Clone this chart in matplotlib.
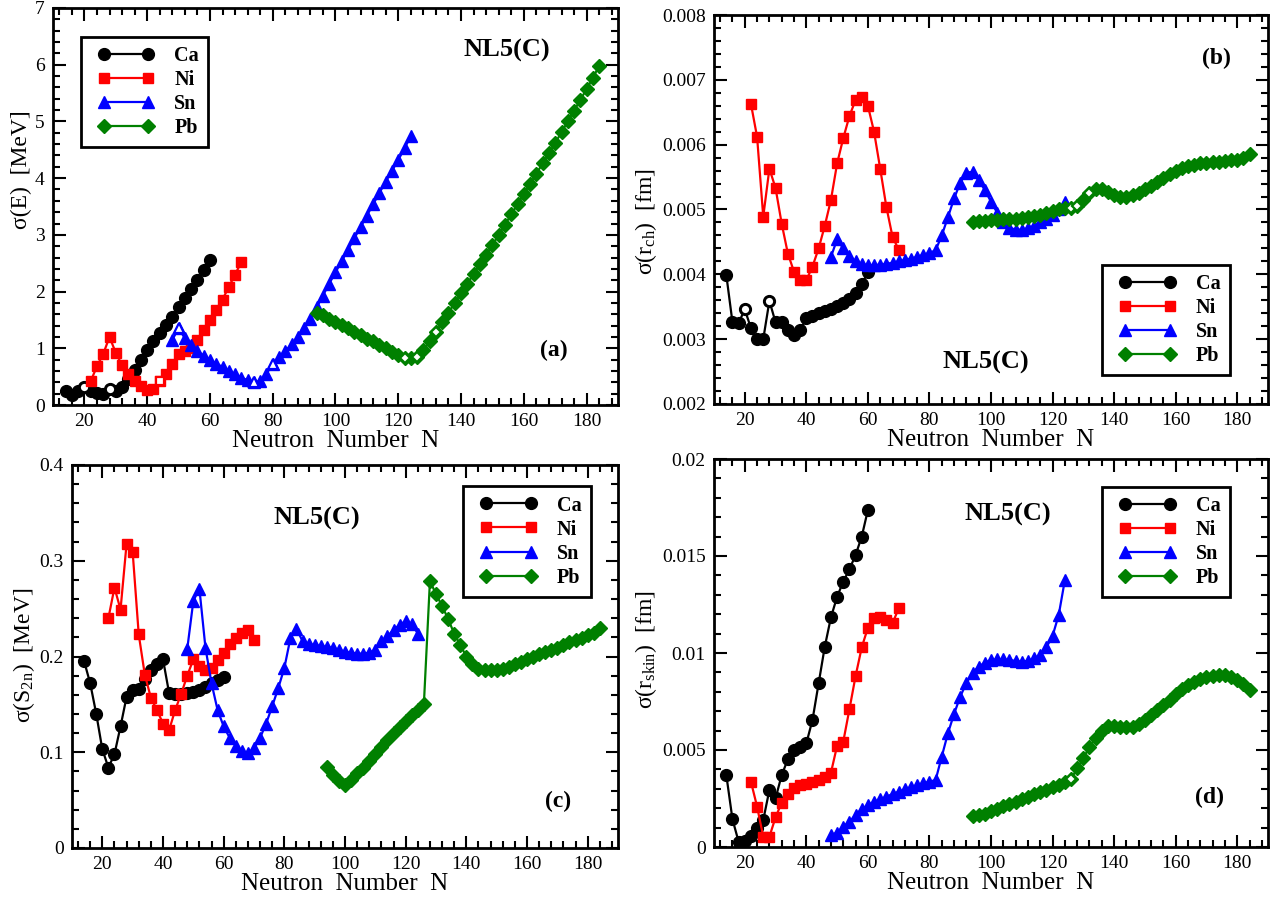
import matplotlib
matplotlib.use("Agg")
import matplotlib.pyplot as plt
import numpy as np
from matplotlib.ticker import MultipleLocator, FuncFormatter
from matplotlib.legend_handler import HandlerLine2D

plt.rcParams['font.family'] = ['Liberation Serif', 'DejaVu Serif']
plt.rcParams['mathtext.fontset'] = 'custom'
plt.rcParams['mathtext.rm'] = 'Liberation Serif'
plt.rcParams['mathtext.it'] = 'Liberation Serif:italic'
plt.rcParams['mathtext.bf'] = 'Liberation Serif:bold'

# ---------------- data ----------------
N_ca = list(range(14, 61, 2))
N_ni = list(range(22, 71, 2))
N_sn = list(range(48, 125, 2))
N_pb = list(range(94, 185, 2))

# (a) sigma(E) [MeV]
E_ca = [0.24, 0.18, 0.24, 0.31, 0.24, 0.21, 0.20, 0.28, 0.24, 0.32, 0.45, 0.62,
        0.80, 0.97, 1.13, 1.27, 1.41, 1.56, 1.72, 1.88, 2.04, 2.20, 2.38, 2.56]
E_ni = [0.42, 0.68, 0.90, 1.20, 0.92, 0.70, 0.55, 0.43, 0.33, 0.27, 0.28, 0.42,
        0.55, 0.72, 0.90, 0.95, 1.00, 1.15, 1.32, 1.50, 1.68, 1.86, 2.08, 2.30, 2.52]
E_sn = [1.15, 1.35, 1.18, 1.05, 0.95, 0.87, 0.80, 0.73, 0.67, 0.60, 0.54, 0.48,
        0.44, 0.41, 0.42, 0.55, 0.72, 0.85, 0.95, 1.07, 1.20, 1.35, 1.52, 1.72,
        1.93, 2.14, 2.34, 2.54, 2.74, 2.94, 3.14, 3.34, 3.54, 3.74, 3.94, 4.13,
        4.32, 4.53, 4.74]
E_pb = [1.63, 1.58, 1.52, 1.46, 1.41, 1.35, 1.29, 1.23, 1.17, 1.12, 1.06, 1.00,
        0.94, 0.89, 0.83, 0.82, 0.85, 0.97, 1.12, 1.29, 1.46, 1.63, 1.80, 1.97,
        2.14, 2.31, 2.48, 2.65, 2.82, 3.00, 3.18, 3.36, 3.54, 3.72, 3.90, 4.08,
        4.26, 4.44, 4.62, 4.81, 5.00, 5.19, 5.38, 5.57, 5.77, 5.98]

# (b) sigma(r_ch) [fm]
R_ca = [0.00399, 0.00326, 0.00325, 0.00346, 0.00317, 0.00300, 0.00300, 0.00359,
        0.00326, 0.00327, 0.00314, 0.00306, 0.00314, 0.00332, 0.00336, 0.00340,
        0.00343, 0.00347, 0.00351, 0.00356, 0.00362, 0.00371, 0.00385, 0.00403]
R_ni = [0.00663, 0.00612, 0.00489, 0.00563, 0.00533, 0.00478, 0.00432, 0.00404,
        0.00391, 0.00391, 0.00412, 0.00440, 0.00475, 0.00515, 0.00571, 0.00610,
        0.00644, 0.00669, 0.00674, 0.00660, 0.00620, 0.00563, 0.00504, 0.00458,
        0.00438]
R_sn = [0.00427, 0.00454, 0.00440, 0.00428, 0.00420, 0.00416, 0.00414, 0.00414,
        0.00415, 0.00416, 0.00418, 0.00420, 0.00422, 0.00424, 0.00427, 0.00430,
        0.00433, 0.00437, 0.00460, 0.00488, 0.00517, 0.00541, 0.00557, 0.00558,
        0.00545, 0.00530, 0.00512, 0.00495, 0.00480, 0.00472, 0.00469, 0.00469,
        0.00471, 0.00475, 0.00480, 0.00486, 0.00492, 0.00500, 0.00512]
R_pb = [0.00481, 0.00482, 0.00483, 0.00484, 0.00484, 0.00485, 0.00485, 0.00486,
        0.00487, 0.00488, 0.00490, 0.00492, 0.00494, 0.00497, 0.00500, 0.00502,
        0.00503, 0.00506, 0.00515, 0.00526, 0.00531, 0.00531, 0.00527, 0.00523,
        0.00520, 0.00519, 0.00522, 0.00526, 0.00531, 0.00537, 0.00543, 0.00549,
        0.00555, 0.00560, 0.00564, 0.00567, 0.00569, 0.00571, 0.00572, 0.00573,
        0.00574, 0.00575, 0.00576, 0.00577, 0.00580, 0.00586]

# (c) sigma(S2n) [MeV]
S_ca = [0.195, 0.172, 0.140, 0.103, 0.084, 0.098, 0.127, 0.158, 0.165, 0.166,
        0.176, 0.186, 0.192, 0.197, 0.162, 0.161, 0.161, 0.162, 0.163, 0.165,
        0.168, 0.172, 0.175, 0.179]
S_ni = [0.240, 0.272, 0.249, 0.318, 0.309, 0.223, 0.181, 0.157, 0.144, 0.130,
        0.123, 0.144, 0.161, 0.180, 0.197, 0.190, 0.186, 0.188, 0.196, 0.204,
        0.213, 0.219, 0.225, 0.228, 0.217]
S_sn = [0.208, 0.258, 0.271, 0.209, 0.172, 0.144, 0.127, 0.115, 0.107, 0.101,
        0.099, 0.104, 0.115, 0.130, 0.148, 0.167, 0.188, 0.219, 0.229, 0.216,
        0.213, 0.212, 0.211, 0.210, 0.209, 0.207, 0.205, 0.204, 0.203, 0.203,
        0.204, 0.207, 0.216, 0.221, 0.228, 0.233, 0.237, 0.234, 0.224]
S_pb = [0.085, 0.076, 0.070, 0.066, 0.071, 0.078, 0.084, 0.091, 0.098, 0.105,
        0.113, 0.120, 0.126, 0.133, 0.139, 0.144, 0.150, 0.279, 0.265, 0.253,
        0.239, 0.224, 0.212, 0.200, 0.192, 0.187, 0.186, 0.186, 0.186, 0.187,
        0.189, 0.192, 0.194, 0.197, 0.200, 0.203, 0.205, 0.207, 0.209, 0.212,
        0.215, 0.217, 0.219, 0.222, 0.225, 0.230]

# (d) sigma(r_skin) [fm]
K_ca = [0.00371, 0.00143, 0.00027, 0.00030, 0.00057, 0.00096, 0.00139, 0.00294,
        0.00251, 0.00371, 0.00452, 0.00500, 0.00514, 0.00534, 0.00655, 0.00844,
        0.01033, 0.01184, 0.01290, 0.01368, 0.01431, 0.01505, 0.01600, 0.01737]
K_ni = [0.00337, 0.00208, 0.00053, 0.00053, 0.00153, 0.00229, 0.00273, 0.00302,
        0.00320, 0.00323, 0.00337, 0.00345, 0.00363, 0.00383, 0.00522, 0.00543,
        0.00710, 0.00881, 0.01029, 0.01130, 0.01179, 0.01187, 0.01170, 0.01153,
        0.01230]
K_sn = [0.00062, 0.00074, 0.00105, 0.00130, 0.00165, 0.00194, 0.00216, 0.00233,
        0.00245, 0.00259, 0.00273, 0.00285, 0.00297, 0.00307, 0.00319, 0.00328,
        0.00337, 0.00345, 0.00466, 0.00586, 0.00686, 0.00775, 0.00845, 0.00897,
        0.00930, 0.00950, 0.00964, 0.00967, 0.00967, 0.00964, 0.00959, 0.00955,
        0.00960, 0.00972, 0.00990, 0.01029, 0.01088, 0.01196, 0.01376]
K_pb = [0.00158, 0.00165, 0.00172, 0.00186, 0.00198, 0.00210, 0.00222, 0.00234,
        0.00246, 0.00260, 0.00273, 0.00284, 0.00295, 0.00307, 0.00320, 0.00337,
        0.00350, 0.00405, 0.00457, 0.00517, 0.00560, 0.00600, 0.00622, 0.00624,
        0.00620, 0.00618, 0.00620, 0.00632, 0.00654, 0.00680, 0.00706, 0.00732,
        0.00760, 0.00788, 0.00813, 0.00835, 0.00852, 0.00865, 0.00875, 0.00884,
        0.00888, 0.00885, 0.00876, 0.00862, 0.00840, 0.00807]

# neutron numbers drawn with open symbols
open_a = {'Ca': [20, 28], 'Ni': [44], 'Sn': [50, 74, 80], 'Pb': [122, 126, 132]}
open_b = {'Ca': [20, 28], 'Ni': [], 'Sn': [], 'Pb': [126, 128, 132]}
open_c = {'Ca': [], 'Ni': [], 'Sn': [], 'Pb': []}
open_d = {'Ca': [], 'Ni': [], 'Sn': [], 'Pb': [126]}

labels = ['Ca', 'Ni', 'Sn', 'Pb']
colors = {'Ca': 'black', 'Ni': '#ff0000', 'Sn': '#0000ff', 'Pb': '#008000'}
markers = {'Ca': 'o', 'Ni': 's', 'Sn': '^', 'Pb': 'D'}
msizes = {'Ca': 8.5, 'Ni': 7.5, 'Sn': 9.0, 'Pb': 6.8}
Ns = {'Ca': N_ca, 'Ni': N_ni, 'Sn': N_sn, 'Pb': N_pb}

panels = [
    dict(pos=(53, 8, 618, 405), data={'Ca': E_ca, 'Ni': E_ni, 'Sn': E_sn, 'Pb': E_pb},
         ylim=(0, 7), major=1, minor=0.2, fmt='{:.0f}', ylabel=r'σ(E)  [MeV]',
         ylab_xy=(32, 170),
         opens=open_a, tag='(a)', tagxy=(554, 350), nlxy=(507, 50),
         leg=dict(loc='upper left', anchor=(0.049, 0.928))),
    dict(pos=(714, 15, 1268, 404), data={'Ca': R_ca, 'Ni': R_ni, 'Sn': R_sn, 'Pb': R_pb},
         ylim=(0.002, 0.008), major=0.001, minor=0.0002, fmt='{:.3f}',
         ylabel=r'σ(r$_{\rm ch}$)  [fm]', ylab_xy=(659, 222),
         opens=open_b, tag='(b)', tagxy=(1216, 58), nlxy=(986, 362),
         leg=dict(loc='lower right', anchor=(0.931, 0.075))),
    dict(pos=(72, 465, 618, 848), data={'Ca': S_ca, 'Ni': S_ni, 'Sn': S_sn, 'Pb': S_pb},
         ylim=(0, 0.4), major=0.1, minor=0.02, fmt='{:.1f}',
         ylabel=r'σ(S$_{\rm 2n}$)  [MeV]', ylab_xy=(37, 655),
         opens=open_c, tag='(c)', tagxy=(558, 801), nlxy=(317, 518),
         leg=dict(loc='upper right', anchor=(0.95, 0.944))),
    dict(pos=(714, 459, 1268, 847), data={'Ca': K_ca, 'Ni': K_ni, 'Sn': K_sn, 'Pb': K_pb},
         ylim=(0, 0.02), major=0.005, minor=0.001, fmt=None,
         ylabel=r'σ(r$_{\rm skin}$)  [fm]', ylab_xy=(659, 650),
         opens=open_d, tag='(d)', tagxy=(1210, 797), nlxy=(1008, 514),
         leg=dict(loc='upper right', anchor=(0.931, 0.929))),
]

W, H = 1285, 899
fig = plt.figure(figsize=(W / 100, H / 100), dpi=100)


def skin_fmt(v, pos):
    if abs(v) < 1e-12:
        return '0'
    return ('{:.3f}'.format(v)).rstrip('0')


for p in panels:
    x0, y0, x1, y1 = p['pos']
    ax = fig.add_axes([x0 / W, 1 - y1 / H, (x1 - x0) / W, (y1 - y0) / H])
    handles = []
    for lab in labels:
        xs = Ns[lab]
        ys = p['data'][lab]
        h, = ax.plot(xs, ys, color=colors[lab], marker=markers[lab], lw=1.6,
                     ms=msizes[lab], mec=colors[lab], mfc=colors[lab], label=lab)
        handles.append(h)
        ox = [n for n in p['opens'][lab] if n in xs]
        oy = [ys[xs.index(n)] for n in ox]
        if ox:
            ax.plot(ox, oy, ls='none', marker=markers[lab], ms=msizes[lab] * 0.8,
                    mec=colors[lab], mfc='white', mew=1.6)
    ax.set_xlim(10, 190)
    ax.set_ylim(*p['ylim'])
    ax.xaxis.set_major_locator(MultipleLocator(20))
    ax.xaxis.set_minor_locator(MultipleLocator(4))
    ax.yaxis.set_major_locator(MultipleLocator(p['major']))
    ax.yaxis.set_minor_locator(MultipleLocator(p['minor']))
    if p['fmt'] is None:
        ax.yaxis.set_major_formatter(FuncFormatter(skin_fmt))
    else:
        f = p['fmt']
        ax.yaxis.set_major_formatter(FuncFormatter(
            lambda v, pos, f=f: '0' if abs(v) < 1e-12 else f.format(v)))
    ax.tick_params(which='both', direction='in', top=True, right=True,
                   labelsize=14, width=1.5, pad=6)
    ax.tick_params(which='major', length=9)
    ax.tick_params(which='minor', length=5)
    for s in ax.spines.values():
        s.set_linewidth(2)
    ax.set_xlabel('Neutron  Number  N', fontsize=18, labelpad=0)
    ax.set_ylabel(p['ylabel'], fontsize=17)
    lx, ly = p['ylab_xy']
    ax.yaxis.set_label_coords((lx - x0) / (x1 - x0), (y1 - ly) / (y1 - y0))
    # annotations
    tx, ty = p['tagxy']
    fig.text(tx / W, 1 - ty / H, p['tag'], fontsize=17, fontweight='bold',
             ha='center', va='center')
    nx, ny = p['nlxy']
    fig.text(nx / W, 1 - ny / H, 'NL5(C)', fontsize=19, fontweight='bold',
             ha='center', va='center')
    leg = ax.legend(handles=handles, loc=p['leg']['loc'],
                    bbox_to_anchor=p['leg']['anchor'], numpoints=2,
                    handler_map={h: HandlerLine2D(marker_pad=0.7) for h in handles},
                    prop={'weight': 'bold', 'size': 14.5}, fancybox=False,
                    edgecolor='black', framealpha=1, handlelength=3.6,
                    borderpad=0.45, labelspacing=0.2, handletextpad=0.6,
                    borderaxespad=0)
    leg.get_frame().set_linewidth(2)

fig.savefig('out.png', dpi=100)
